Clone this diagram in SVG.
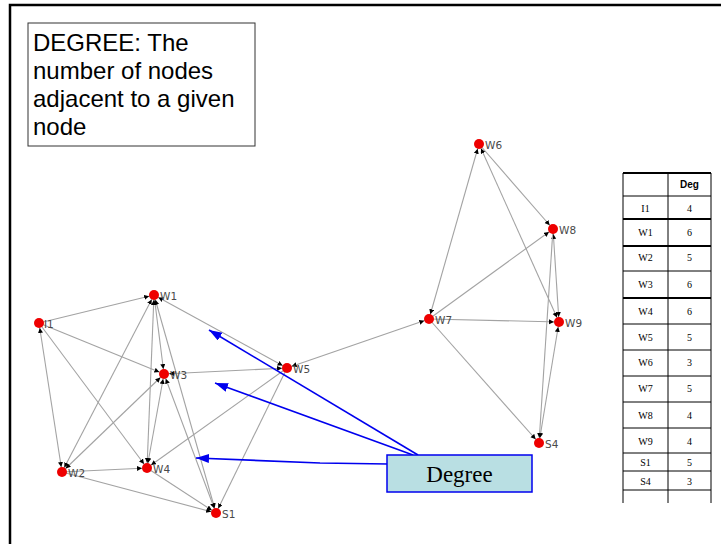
<svg xmlns="http://www.w3.org/2000/svg" width="721" height="544" viewBox="0 0 721 544">
<style>
.edge{stroke:#a3a3a3;stroke-width:1.1;fill:none;marker-end:url(#ah)}
.both{marker-start:url(#ah)}
.dot{fill:#ee0000}
.lbl{font-family:"DejaVu Sans",sans-serif;font-size:10.5px;fill:#4a4a4a}
.title{font-family:"Liberation Sans",Arial,sans-serif;font-size:24px;fill:#000}
.tbl{stroke:#000;stroke-width:1;fill:none}
.tk{stroke-width:2}
.tc{font-family:"Liberation Serif","Times New Roman",serif;font-size:10px;fill:#000;text-anchor:middle}
.th{font-family:"Liberation Sans",Arial,sans-serif;font-size:10px;font-weight:bold;text-anchor:middle}
.blue{stroke:#0000ee;stroke-width:1.6;fill:none;marker-end:url(#bh)}
</style>
<defs>
<marker id="ah" markerUnits="userSpaceOnUse" markerWidth="12" markerHeight="6" refX="10" refY="2.5" orient="auto-start-reverse">
<path d="M0,0 L5,2.5 L0,5 z" fill="#000"/>
</marker>
<marker id="bh" markerUnits="userSpaceOnUse" markerWidth="14" markerHeight="10" refX="13" refY="4.5" orient="auto">
<path d="M0,0 L13,4.5 L0,9 z" fill="#0000ee"/>
</marker>
</defs>
<rect x="0" y="0" width="721" height="544" fill="#fff"/>
<rect x="10" y="5" width="730" height="560" fill="none" stroke="#000" stroke-width="2.5"/>

<g id="title">
<rect x="28" y="23" width="227" height="123" fill="#fff" stroke="#333" stroke-width="1"/>
<text class="title" x="33" y="51">DEGREE: The</text>
<text class="title" x="33" y="79">number of nodes</text>
<text class="title" x="33" y="107">adjacent to a given</text>
<text class="title" x="33" y="135">node</text>
</g>

<g id="connectors">
<line class="edge" x1="39" y1="323" x2="154" y2="295"/>
<line class="edge" x1="39" y1="323" x2="164" y2="374"/>
<line class="edge both" x1="39" y1="323" x2="62" y2="472"/>
<line class="edge" x1="39" y1="323" x2="147" y2="468"/>
<line class="edge both" x1="154" y1="295" x2="287" y2="368"/>
<line class="edge both" x1="154" y1="295" x2="164" y2="374"/>
<line class="edge both" x1="154" y1="295" x2="147" y2="468"/>
<line class="edge both" x1="154" y1="295" x2="216" y2="513"/>
<line class="edge both" x1="154" y1="295" x2="62" y2="472"/>
<line class="edge both" x1="287" y1="368" x2="164" y2="374"/>
<line class="edge both" x1="164" y1="374" x2="62" y2="472"/>
<line class="edge both" x1="164" y1="374" x2="147" y2="468"/>
<line class="edge both" x1="164" y1="374" x2="216" y2="513"/>
<line class="edge" x1="62" y1="472" x2="147" y2="468"/>
<line class="edge" x1="62" y1="472" x2="216" y2="513"/>
<line class="edge" x1="287" y1="368" x2="147" y2="468"/>
<line class="edge" x1="147" y1="468" x2="216" y2="513"/>
<line class="edge" x1="287" y1="368" x2="216" y2="513"/>
<line class="edge both" x1="429" y1="319" x2="287" y2="368"/>
<line class="edge both" x1="429" y1="319" x2="479" y2="144"/>
<line class="edge" x1="479" y1="144" x2="553" y2="229"/>
<line class="edge both" x1="479" y1="144" x2="559" y2="322"/>
<line class="edge" x1="429" y1="319" x2="553" y2="229"/>
<line class="edge" x1="429" y1="319" x2="559" y2="322"/>
<line class="edge" x1="429" y1="319" x2="539" y2="443"/>
<line class="edge both" x1="553" y1="229" x2="559" y2="322"/>
<line class="edge" x1="553" y1="229" x2="539" y2="443"/>
<line class="edge both" x1="559" y1="322" x2="539" y2="443"/>
<polyline class="blue" points="418,455 209,330"/>
<polyline class="blue" points="413,455 215,383"/>
<polyline class="blue" points="388,464 320,463 196,458"/>
</g>

<g id="I1"><circle class="dot" cx="39" cy="323" r="5"/><text class="lbl" x="44" y="328">I1</text></g>
<g id="W1"><circle class="dot" cx="154" cy="295" r="5"/><text class="lbl" x="160" y="300">W1</text></g>
<g id="W3"><circle class="dot" cx="164" cy="374" r="5"/><text class="lbl" x="170" y="379">W3</text></g>
<g id="W5"><circle class="dot" cx="287" cy="368" r="5"/><text class="lbl" x="293" y="373">W5</text></g>
<g id="W2"><circle class="dot" cx="62" cy="472" r="5"/><text class="lbl" x="68" y="477">W2</text></g>
<g id="W4"><circle class="dot" cx="147" cy="468" r="5"/><text class="lbl" x="153" y="473">W4</text></g>
<g id="S1"><circle class="dot" cx="216" cy="513" r="5"/><text class="lbl" x="222" y="518">S1</text></g>
<g id="W6"><circle class="dot" cx="479" cy="144" r="5"/><text class="lbl" x="485" y="149">W6</text></g>
<g id="W8"><circle class="dot" cx="553" cy="229" r="5"/><text class="lbl" x="559" y="234">W8</text></g>
<g id="W7"><circle class="dot" cx="429" cy="319" r="5"/><text class="lbl" x="435" y="324">W7</text></g>
<g id="W9"><circle class="dot" cx="559" cy="322" r="5"/><text class="lbl" x="565" y="327">W9</text></g>
<g id="S4"><circle class="dot" cx="539" cy="443" r="5"/><text class="lbl" x="545" y="448">S4</text></g>

<g id="degree">
<rect x="387" y="455" width="145" height="37" fill="#b9dfe3" stroke="#0000ee" stroke-width="1.5"/>
<text x="459.5" y="482" font-family="Liberation Serif,'Times New Roman',serif" font-size="23" text-anchor="middle" fill="#000">Degree</text>
</g>

<g id="table">
<line class="tbl tk" x1="623" y1="173" x2="711" y2="173"/>
<line class="tbl" x1="623" y1="196" x2="711" y2="196"/>
<line class="tbl tk" x1="623" y1="219" x2="711" y2="219"/>
<line class="tbl tk" x1="623" y1="246" x2="711" y2="246"/>
<line class="tbl" x1="623" y1="271" x2="711" y2="271"/>
<line class="tbl tk" x1="623" y1="298" x2="711" y2="298"/>
<line class="tbl" x1="623" y1="324" x2="711" y2="324"/>
<line class="tbl" x1="623" y1="350" x2="711" y2="350"/>
<line class="tbl" x1="623" y1="376" x2="711" y2="376"/>
<line class="tbl" x1="623" y1="402" x2="711" y2="402"/>
<line class="tbl" x1="623" y1="428" x2="711" y2="428"/>
<line class="tbl" x1="623" y1="453" x2="711" y2="453"/>
<line class="tbl" x1="623" y1="471" x2="711" y2="471"/>
<line class="tbl" x1="623" y1="490" x2="711" y2="490"/>
<line class="tbl" x1="623" y1="173" x2="623" y2="503"/>
<line class="tbl" x1="668" y1="173" x2="668" y2="503"/>
<line class="tbl" x1="711" y1="173" x2="711" y2="503"/>
<text class="th" x="689.5" y="188">Deg</text>
<text class="tc" x="645.5" y="212">I1</text><text class="tc" x="689.5" y="212">4</text>
<text class="tc" x="645.5" y="236">W1</text><text class="tc" x="689.5" y="236">6</text>
<text class="tc" x="645.5" y="261">W2</text><text class="tc" x="689.5" y="261">5</text>
<text class="tc" x="645.5" y="288">W3</text><text class="tc" x="689.5" y="288">6</text>
<text class="tc" x="645.5" y="315">W4</text><text class="tc" x="689.5" y="315">6</text>
<text class="tc" x="645.5" y="341">W5</text><text class="tc" x="689.5" y="341">5</text>
<text class="tc" x="645.5" y="366">W6</text><text class="tc" x="689.5" y="366">3</text>
<text class="tc" x="645.5" y="392">W7</text><text class="tc" x="689.5" y="392">5</text>
<text class="tc" x="645.5" y="419">W8</text><text class="tc" x="689.5" y="419">4</text>
<text class="tc" x="645.5" y="445">W9</text><text class="tc" x="689.5" y="445">4</text>
<text class="tc" x="645.5" y="466">S1</text><text class="tc" x="689.5" y="466">5</text>
<text class="tc" x="645.5" y="485">S4</text><text class="tc" x="689.5" y="485">3</text>
</g>
</svg>
